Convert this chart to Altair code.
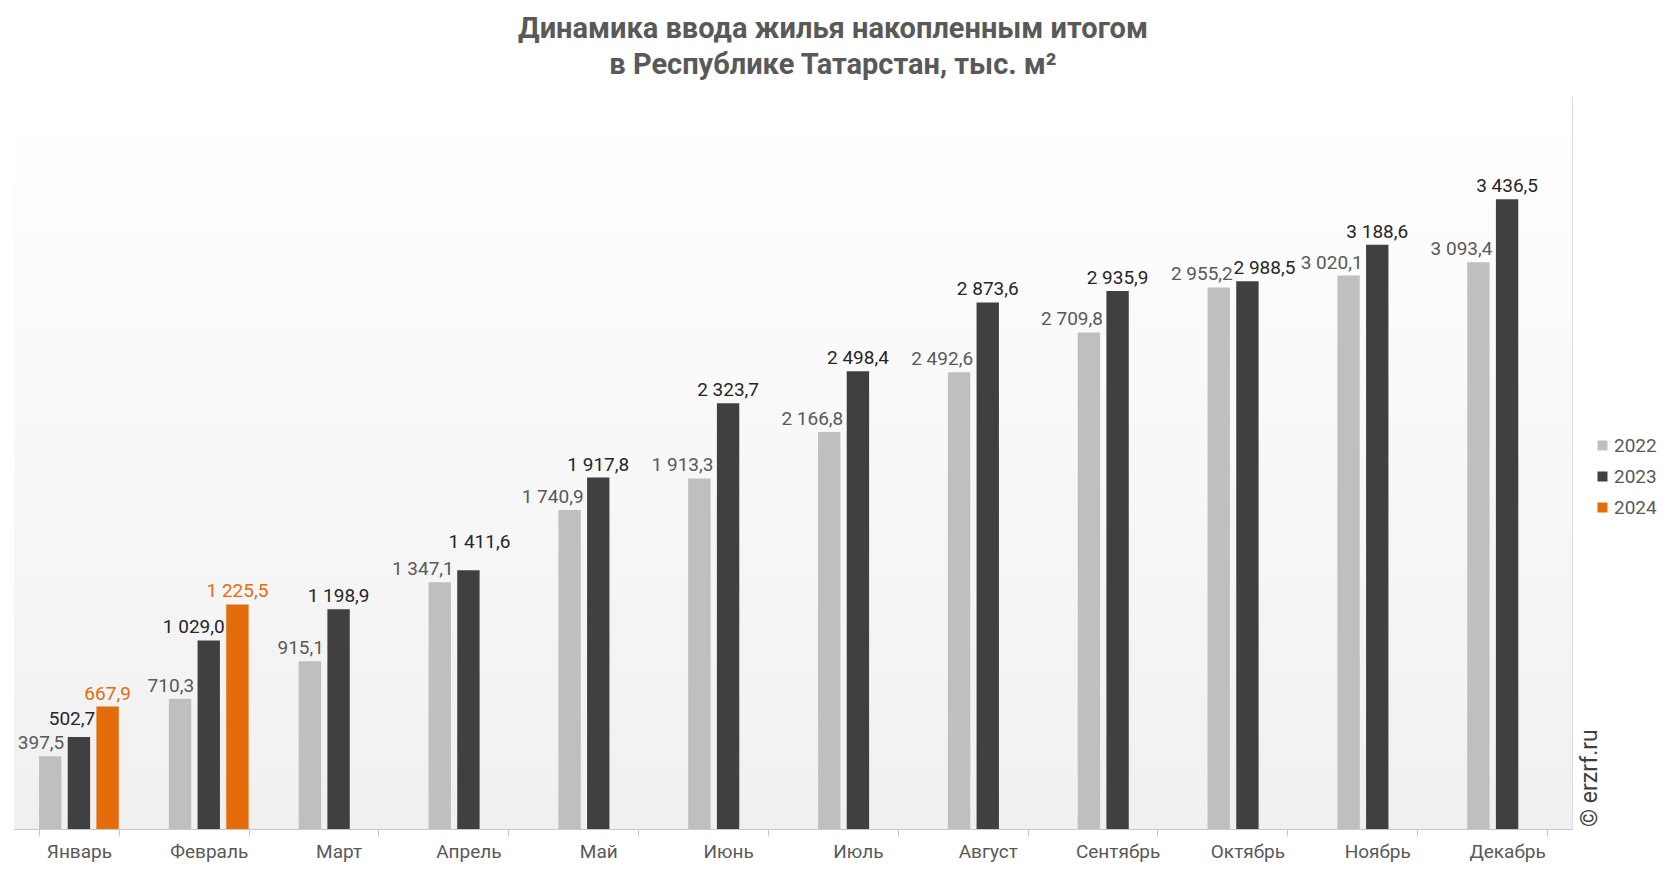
import altair as alt
import pandas as pd

months = ["Январь", "Февраль", "Март", "Апрель", "Май", "Июнь",
          "Июль", "Август", "Сентябрь", "Октябрь", "Ноябрь", "Декабрь"]
years = ["2022", "2023", "2024"]
v2022 = [397.5, 710.3, 915.1, 1347.1, 1740.9, 1913.3, 2166.8, 2492.6, 2709.8, 2955.2, 3020.1, 3093.4]
v2023 = [502.7, 1029.0, 1198.9, 1411.6, 1917.8, 2323.7, 2498.4, 2873.6, 2935.9, 2988.5, 3188.6, 3436.5]
v2024 = [667.9, 1225.5]

bar_colors = ["#bfbfbf", "#404040", "#e46c0a"]
label_colors = {"2022": "#595959", "2023": "#262626", "2024": "#e46c0a"}
# manual label nudges (style): (dx, extra dy)
nudges = {("Январь", "2023"): (-7, -5), ("Февраль", "2023"): (-15, 0),
          ("Апрель", "2023"): (11, -15), ("Октябрь", "2023"): (17, 0)}


def fmt(v):
    s = f"{v:,.1f}"
    return s.replace(",", " ").replace(".", ",")


rows = []
for yr, vals in zip(years, [v2022, v2023, v2024]):
    for m, v in zip(months, vals):
        rows.append({"month": m, "year": yr, "value": v, "label": fmt(v)})
df = pd.DataFrame(rows)

W, H = 1558, 733
FONT = "Roboto"

x_enc = alt.X("month:N", sort=months,
              scale=alt.Scale(domain=months, paddingInner=0.386, paddingOuter=0.193),
              axis=alt.Axis(title=None, labelAngle=0, tickBand="extent", tickSize=7,
                            domainColor="#c8c8c8", tickColor="#c8c8c8", labelColor="#595959",
                            labelFontSize=19, labelFont=FONT, labelPadding=6, grid=False))
xo_enc = alt.XOffset("year:N", sort=years,
                     scale=alt.Scale(domain=years, paddingInner=0.22, paddingOuter=0))
y_enc = alt.Y("value:Q", scale=alt.Scale(domain=[0, 4000], nice=False), axis=None)

gradient = alt.Gradient(gradient="linear",
                        stops=[alt.GradientStop(color="#ffffff", offset=0),
                               alt.GradientStop(color="#f0f0f0", offset=1)],
                        x1=0, x2=0, y1=0, y2=1)
bg = alt.Chart(pd.DataFrame({"z": [0]})).mark_rect(fill=gradient).encode(
    x=alt.value(0), x2=alt.value(W), y=alt.value(0), y2=alt.value(H))

bars = alt.Chart(df).mark_bar().encode(
    x=x_enc, xOffset=xo_enc, y=y_enc,
    color=alt.Color("year:N", sort=years,
                    scale=alt.Scale(domain=years, range=bar_colors),
                    legend=alt.Legend(title=None, orient="none", legendX=W + 21, legendY=340,
                                      symbolType="square", symbolSize=100, symbolStrokeWidth=0,
                                      labelFontSize=19, labelFont=FONT, labelColor="#595959",
                                      rowPadding=11, labelOffset=2)))

layers = [bg, bars]
for yr in years:
    if yr == "2022":
        mk = dict(align="right", dx=14)
    else:
        mk = dict(align="center", dx=0)
    excl = [m for (m, y2), _ in nudges.items() if y2 == yr]
    base = alt.Chart(df).transform_filter(alt.datum.year == yr)
    if excl:
        base = base.transform_filter(~alt.FieldOneOfPredicate(field="month", oneOf=excl))
    layers.append(base.mark_text(baseline="alphabetic", dy=-7, fontSize=19, font=FONT,
                                 color=label_colors[yr], **mk).encode(
        x=x_enc, xOffset=xo_enc, y=y_enc, text="label:N"))
    for (m, y2), (ddx, ddy) in nudges.items():
        if y2 != yr:
            continue
        layers.append(alt.Chart(df).transform_filter(
            (alt.datum.year == yr) & (alt.datum.month == m)).mark_text(
            baseline="alphabetic", dy=-7 + ddy, fontSize=19, font=FONT,
            color=label_colors[yr], align="center", dx=ddx).encode(
            x=x_enc, xOffset=xo_enc, y=y_enc, text="label:N"))

wm = alt.Chart(pd.DataFrame({"t": ["© erzrf.ru"]})).mark_text(
    angle=270, align="left", baseline="middle", fontSize=23, font=FONT, color="#404040").encode(
    x=alt.value(W + 18), y=alt.value(H - 2), text="t:N")
layers.append(wm)

chart = alt.layer(*layers).properties(
    width=W, height=H,
    title=alt.TitleParams(text=["Динамика ввода жилья накопленным итогом",
                                "в Республике Татарстан, тыс. м²"],
                          fontSize=29, font=FONT, fontWeight="bold", color="#595959",
                          anchor="middle", dx=40, offset=16, lineHeight=36),
    autosize=alt.AutoSizeParams(type="none"),
    padding={"left": 14, "top": 96, "right": 94, "bottom": 43},
).configure_view(stroke="#d9d9d9", strokeWidth=1).configure(background="white")

chart.save("out.html", embed_options={"renderer": "svg", "actions": False})
